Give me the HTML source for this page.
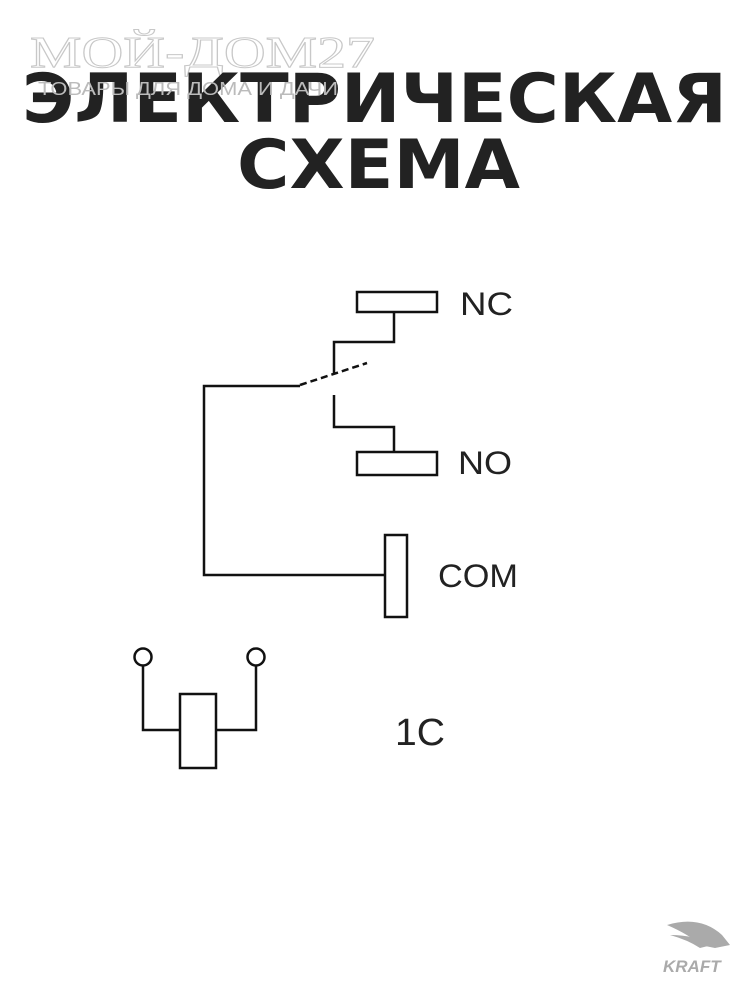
<!DOCTYPE html>
<html><head><meta charset="utf-8"><style>
html,body{margin:0;padding:0;background:#fff;}
svg{display:block;}
</style></head><body>
<svg width="750" height="1000" viewBox="0 0 750 1000" xmlns="http://www.w3.org/2000/svg">
<rect width="750" height="1000" fill="#fff"/>
<text x="30" y="67" font-family="Liberation Serif, serif" font-size="44" fill="none" stroke="#c8c8c8" stroke-width="1" textLength="345" lengthAdjust="spacingAndGlyphs">МОЙ-ДОМ27</text>
<text x="22" y="122" font-family="DejaVu Sans, Liberation Sans, sans-serif" font-weight="bold" font-size="68" fill="#222" textLength="705" lengthAdjust="spacingAndGlyphs">ЭЛЕКТРИЧЕСКАЯ</text>
<text x="237" y="188" font-family="DejaVu Sans, Liberation Sans, sans-serif" font-weight="bold" font-size="68" fill="#222" textLength="283" lengthAdjust="spacingAndGlyphs">СХЕМА</text>
<text x="38" y="95" font-family="Liberation Sans, sans-serif" font-size="18" fill="#bbb" textLength="300" lengthAdjust="spacingAndGlyphs">ТОВАРЫ ДЛЯ ДОМА И ДАЧИ</text>
<g fill="none" stroke="#111" stroke-width="2.5">
<rect x="357" y="292" width="80" height="20"/>
<polyline points="394,312 394,342 334,342 334,373"/>
<line x1="300" y1="385" x2="367" y2="363" stroke-dasharray="7,4"/>
<polyline points="300,386 204,386 204,575 385,575"/>
<rect x="385" y="535" width="22" height="82"/>
<polyline points="334,395 334,427 394,427 394,452"/>
<rect x="357" y="452" width="80" height="23"/>
<circle cx="143" cy="657" r="8.5"/>
<circle cx="256" cy="657" r="8.5"/>
<polyline points="143,666 143,730 180,730"/>
<polyline points="256,666 256,730 216,730"/>
<rect x="180" y="694" width="36" height="74"/>
</g>
<g font-family="Liberation Sans, sans-serif" fill="#222">
<text x="460" y="315" font-size="32" textLength="53" lengthAdjust="spacingAndGlyphs">NC</text>
<text x="458" y="474" font-size="32" textLength="54" lengthAdjust="spacingAndGlyphs">NO</text>
<text x="438" y="587" font-size="32" textLength="80" lengthAdjust="spacingAndGlyphs">COM</text>
<text x="395" y="745" font-size="38" textLength="50" lengthAdjust="spacingAndGlyphs">1C</text>
</g>
<g fill="#aaa">
<path d="M667 925 Q700 915 722 935 L730 945 L715 948 L700 945 Q690 935 667 925Z"/>
<path d="M670 935 Q695 935 712 945 L700 948 Q688 940 670 935Z"/>
</g>
<text x="663" y="972" font-family="Liberation Sans, sans-serif" font-weight="bold" font-style="italic" font-size="17" fill="#aaa">KRAFT</text>
</svg>
</body></html>
